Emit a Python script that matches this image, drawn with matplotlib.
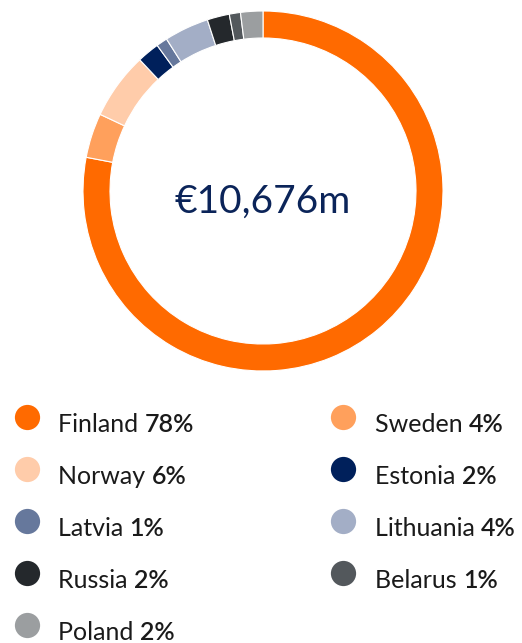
import matplotlib.pyplot as plt

W, H = 522, 643

countries = ['Finland', 'Sweden', 'Norway', 'Estonia', 'Latvia',
             'Lithuania', 'Russia', 'Belarus', 'Poland']
shares = [78, 4, 6, 2, 1, 4, 2, 1, 2]
colors = ['#FF6A00', '#FFA05C', '#FFCCAA', '#00205B', '#66789C',
          '#A3AEC6', '#24282C', '#53585C', '#9B9EA0']
total_label = '€10,676m'

# legend order (two columns, row by row)
legend_order = ['Finland', 'Sweden', 'Norway', 'Estonia', 'Latvia',
                'Lithuania', 'Russia', 'Belarus', 'Poland']

plt.rcParams['font.family'] = ['Lato', 'DejaVu Sans']

fig = plt.figure(figsize=(W / 100, H / 100), dpi=100)
ax = fig.add_axes([0, 0, 1, 1])

cx, cy, R, ring = 263, H - 191, 180, 27
ax.pie(shares, colors=colors, startangle=90, counterclock=False,
       center=(cx, cy), radius=R, frame=True,
       wedgeprops=dict(width=ring, edgecolor='white', linewidth=0.8))
ax.set_xlim(0, W)
ax.set_ylim(0, H)
ax.set_aspect('equal')
ax.axis('off')

ax.text(cx, H - 213, total_label, ha='center', va='baseline',
        fontsize=28, color='#0B2459')

fig.canvas.draw()
renderer = fig.canvas.get_renderer()

col_x = [27, 343]
text_x = [58, 375]
row_dot_y = [417, 469, 521, 573, 625]
row_base_y = [432, 484, 536, 588, 640]
for i, name in enumerate(legend_order):
    r, c = divmod(i, 2)
    k = countries.index(name)
    ax.scatter(col_x[c], H - row_dot_y[r], s=330, color=colors[k],
               linewidths=0)
    t = ax.text(text_x[c], H - row_base_y[r], name + ' ', ha='left',
                va='baseline', fontsize=18, color='#1A1A1A')
    bb = t.get_window_extent(renderer=renderer)
    ax.text(bb.x1, H - row_base_y[r], f'{shares[k]}%', ha='left',
            va='baseline', fontsize=18, fontweight='semibold',
            color='#1A1A1A')

fig.savefig('out.png', dpi=100)
